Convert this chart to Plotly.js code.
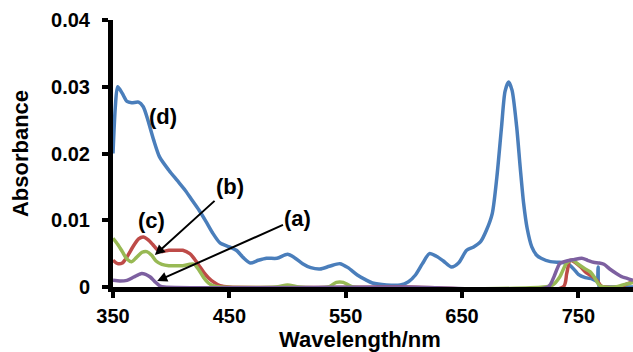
<!DOCTYPE html>
<html><head><meta charset="utf-8">
<script src="https://cdn.plot.ly/plotly-3.0.1.min.js"></script>
<style>html,body{margin:0;padding:0;background:#fff}#chart{width:633px;height:352px}</style>
</head><body><div id="chart"></div>
<script>
// (d) blue
const dX = [350,352,354,358,362,366,372,376,380,385,390,398,405,412,418,424,430,436,442,450,456,462,468,475,482,491,500,506,513,520,528,536,545,552,560,567,573,585,597,604,610,616,622,628,634,641,647,654,660,666,671,676,680,684,687,690,693,697,700,703,706,710,714,718,726,734,740,746,750,756,762,766,767,768,772,797];
const dY = [0.020,0.027,0.030,0.029,0.0278,0.0276,0.0277,0.027,0.025,0.022,0.0195,0.0175,0.016,0.0145,0.013,0.0115,0.0098,0.008,0.0066,0.006,0.0055,0.0044,0.0036,0.004,0.0043,0.0043,0.0049,0.0044,0.0035,0.0029,0.0027,0.0031,0.0035,0.0029,0.0018,0.0011,0.0006,0.0003,0.0003,0.0008,0.0018,0.0035,0.005,0.0046,0.0039,0.003,0.0036,0.0055,0.006,0.0068,0.0085,0.011,0.0165,0.024,0.0293,0.0307,0.0295,0.024,0.018,0.0125,0.0088,0.006,0.0048,0.0043,0.0038,0.0037,0.0036,0.0027,0.0019,0.0014,0.0012,0.0009,0.003,0.0,0.0,0.0];
// (c) red
const cX = [350,354,358,362,367,372,376,380,384,388,392,398,404,410,416,420,424,428,432,436,442,450,600,737,740,743,747,752,757,762,766,770,786,791,797];
const cY = [0.004,0.0035,0.0036,0.0045,0.006,0.0072,0.0075,0.0071,0.0064,0.0056,0.0053,0.0055,0.0055,0.0055,0.005,0.0042,0.0032,0.0022,0.0014,0.0008,0.0002,0,0,0,0.002,0.004,0.0037,0.003,0.0021,0.0016,0.001,0.0001,0,0.0004,0.0008];
// (b) green
const bX = [350,354,358,362,366,370,375,379,383,387,392,398,404,410,416,420,424,428,432,436,442,490,500,510,535,542,548,556,720,728,734,740,745,750,755,760,764,768,772,782,790,797];
const bY = [0.0073,0.0064,0.0053,0.0042,0.0038,0.0044,0.0052,0.0053,0.0048,0.0039,0.0034,0.0032,0.0032,0.0032,0.0034,0.0034,0.0025,0.0014,0.0006,0.0002,0,0,0.0003,0,0,0.0007,0.0007,0,0,0.0003,0.0015,0.0036,0.004,0.0034,0.0028,0.0023,0.0014,0.0003,0,0,0.0004,0.0007];
// (a) purple
const aX = [350,356,362,368,374,378,382,386,390,394,600,724,729,734,740,746,753,758,763,768,772,777,783,788,792,797];
const aY = [0.001,0.0009,0.001,0.0015,0.002,0.0019,0.0015,0.0008,0.0002,0,0,0,0.0015,0.0035,0.0039,0.0041,0.0043,0.004,0.0037,0.0036,0.0034,0.0027,0.002,0.0015,0.0013,0.001];

const xTicks = [350,450,550,650,750];
const yTicks = [0,0.01,0.02,0.03,0.04];
const yTickText = ['0','0.01','0.02','0.03','0.04'];

const FONT = 'Liberation Sans, Arial, sans-serif';
function tr(x,y,color){
  return {x:x,y:y,type:'scatter',mode:'lines',line:{color:color,width:3.5,shape:'spline',smoothing:0.7},hoverinfo:'skip',showlegend:false};
}
const data = [tr(dX,dY,'#4a7ebb'), tr(cX,cY,'#be4b48'), tr(bX,bY,'#98b954'), tr(aX,aY,'#7d60a0')];

const annFont = {family:FONT,size:22,color:'#000',weight:700};
const layout = {
  width:633,height:352,
  margin:{l:113,r:0,t:20,b:65},
  paper_bgcolor:'#fff',plot_bgcolor:'#fff',
  font:{family:FONT,color:'#000'},
  xaxis:{range:[350,797],tickvals:xTicks,ticktext:xTicks.map(String),showgrid:false,zeroline:false,
    showline:true,linecolor:'#000',linewidth:5,ticks:'outside',ticklen:6,tickwidth:4,tickcolor:'#000',
    tickfont:{family:FONT,size:20,weight:700,color:'#000'},layer:'below traces',ticklabelstandoff:1},
  yaxis:{range:[0,0.04],tickvals:yTicks,ticktext:yTickText,showgrid:false,zeroline:false,
    showline:true,linecolor:'#000',linewidth:5,ticks:'outside',ticklen:6,tickwidth:4,tickcolor:'#000',
    tickfont:{family:FONT,size:20,weight:700,color:'#000'},layer:'below traces',ticklabelstandoff:8,
    title:{text:'<b>Absorbance</b>',font:{family:FONT,size:22,weight:700,color:'#000'},standoff:18}},
  annotations:[
    {xref:'paper',yref:'paper',x:0.475,y:-0.1985,xanchor:'center',yanchor:'middle',text:'<b>Wavelength/nm</b>',showarrow:false,font:{family:FONT,size:22,weight:700,color:'#000'}},
    {x:393,y:0.0255,text:'<b>(d)</b>',showarrow:false,font:annFont,xanchor:'center',yanchor:'middle'},
    {x:382.7,y:0.0100,text:'<b>(c)</b>',showarrow:false,font:annFont},
    {x:386,y:0.0048,ax:450.6,ay:0.0150,axref:'x',ayref:'y',text:'<b>(b)</b>',showarrow:true,arrowhead:2,arrowsize:1,arrowwidth:2,arrowcolor:'#000',font:annFont},
    {x:388,y:0.0009,ax:509,ay:0.0103,axref:'x',ayref:'y',text:'<b>(a)</b>',showarrow:true,arrowhead:2,arrowsize:1,arrowwidth:2,arrowcolor:'#000',font:annFont}
  ]
};
Plotly.newPlot('chart',data,layout,{staticPlot:true,displayModeBar:false});
</script></body></html>
